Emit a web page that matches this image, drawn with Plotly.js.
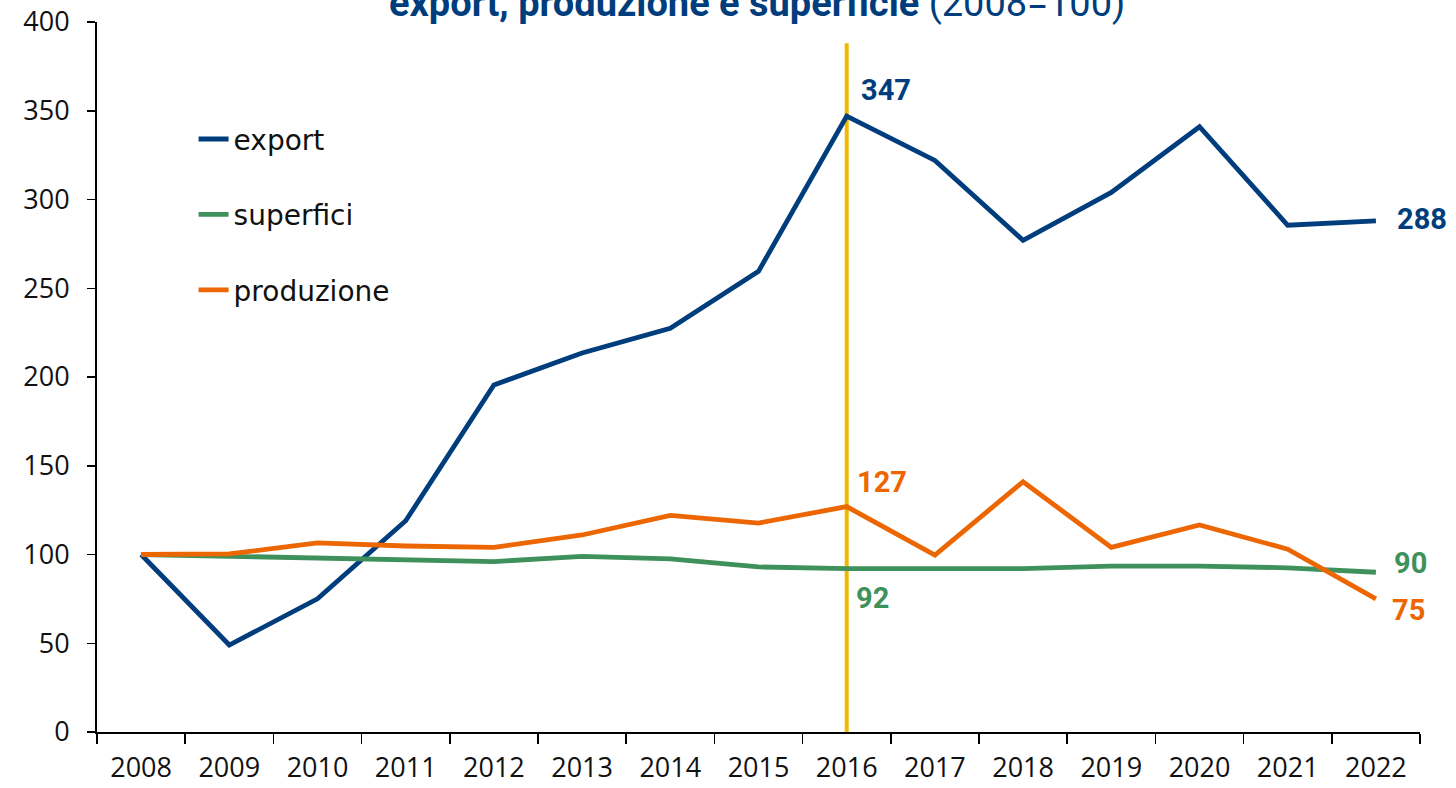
<!DOCTYPE html>
<html>
<head>
<meta charset="utf-8">
<script src="https://cdn.plot.ly/plotly-3.0.1.min.js"></script>
<style>
html,body{margin:0;padding:0;background:#fff;}
#chart{width:1456px;height:788px;}
</style>
</head>
<body>
<div id="chart"></div>
<script>
const years = ['2008','2009','2010','2011','2012','2013','2014','2015','2016','2017','2018','2019','2020','2021','2022'];
const exportValues = [100, 49, 75, 119, 195.5, 213.5, 227.5, 259.5, 347, 322, 277, 304, 341, 285.5, 288];
const superficiValues = [100, 99, 98, 97.5, 96, 99, 97.5, 93, 92, 92, 92, 93.5, 93.5, 92.5, 90];
const produzioneValues = [100, 100.3, 106.5, 104.8, 104, 111, 122, 117.7, 127, 99.7, 141, 104, 116.6, 103, 75];
const seriesNames = ['export', 'superfici', 'produzione'];
const highlightYear = '2016';
const titleBold = 'export, produzione e superficie';
const titleNormal = '(2008=100)';
const yTicks = [0, 50, 100, 150, 200, 250, 300, 350, 400];

const colors = {export: '#003d7c', superfici: '#3f915c', produzione: '#ec6602', highlight: '#f0b800'};
const seriesData = {export: exportValues, superfici: superficiValues, produzione: produzioneValues};

const traces = seriesNames.map((name, i) => ({
  type: 'scatter',
  mode: 'lines',
  name: name,
  x: years,
  y: seriesData[name],
  line: {color: colors[name], width: 4.8},
  legendgroup: 'g' + i,
  hoverinfo: 'x+y+name'
}));

// category axis with numeric-looking labels: refer to positions by index
const hiIdx = years.indexOf(highlightYear);
const lastIdx = years.length - 1;
const labelFont = (c) => ({family: 'Roboto, sans-serif', size: 29, color: c, weight: 'bold'});
function lab(name, idx, xshift, yshift) {
  const v = seriesData[name][idx];
  return {
    x: idx, y: v, xref: 'x', yref: 'y',
    text: '<b>' + Math.round(v) + '</b>',
    showarrow: false, xanchor: 'left', yanchor: 'middle',
    xshift: xshift, yshift: yshift,
    font: labelFont(colors[name])
  };
}

const annotations = [
  lab('export', hiIdx, 12, 26),
  lab('produzione', hiIdx, 8, 25),
  lab('superfici', hiIdx, 7, -29),
  lab('export', lastIdx, 19, 2),
  lab('superfici', lastIdx, 16, 9),
  lab('produzione', lastIdx, 14, -11)
];

const layout = {
  width: 1456, height: 788,
  paper_bgcolor: '#ffffff', plot_bgcolor: '#ffffff',
  margin: {l: 97, r: 36, t: 22, b: 56},
  title: {
    text: '<b>' + titleBold + '</b> ' + titleNormal,
    font: {family: 'Roboto, sans-serif', size: 38, color: '#003d7c'},
    x: 0.52, xanchor: 'center', xref: 'container',
    y: 0.997, yanchor: 'middle', yref: 'container'
  },
  showlegend: true,
  legend: {
    x: 0.073, y: 0.87, xanchor: 'left', yanchor: 'top',
    traceorder: 'grouped', tracegroupgap: 36,
    font: {family: 'DejaVu Sans, sans-serif', size: 28, color: '#111'},
    bgcolor: 'rgba(0,0,0,0)', itemwidth: 30
  },
  xaxis: {
    type: 'category',
    range: [-0.5, years.length - 0.5],
    tickson: 'boundaries',
    ticks: 'outside', ticklen: 10, tickwidth: 1.5, tickcolor: '#000',
    showline: true, linecolor: '#000', linewidth: 2,
    showgrid: false, zeroline: false,
    ticklabelstandoff: 11,
    tickfont: {family: 'Open Sans, sans-serif', size: 27, color: '#111'},
    fixedrange: true
  },
  yaxis: {
    range: [0, 400],
    tickvals: yTicks,
    ticks: 'outside', ticklen: 8, tickwidth: 1.5, tickcolor: '#000',
    showline: true, linecolor: '#000', linewidth: 2,
    showgrid: false, zeroline: false,
    ticklabelstandoff: 12,
    tickfont: {family: 'Open Sans, sans-serif', size: 27, color: '#111'},
    fixedrange: true
  },
  shapes: [{
    type: 'line', xref: 'x', yref: 'paper',
    x0: hiIdx, x1: hiIdx, y0: 0, y1: 0.97,
    line: {color: colors.highlight, width: 4},
    layer: 'below'
  }],
  annotations: annotations
};

Plotly.newPlot('chart', traces, layout, {displayModeBar: false, staticPlot: true});
</script>
</body>
</html>
